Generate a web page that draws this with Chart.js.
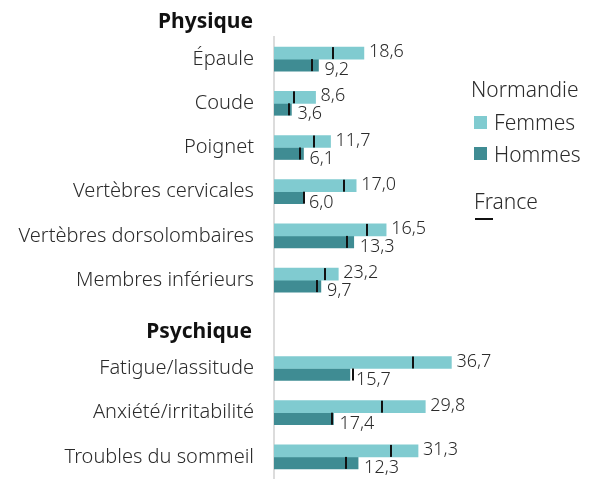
<!DOCTYPE html>
<html>
<head>
<meta charset="utf-8">
<script src="https://cdn.jsdelivr.net/npm/chart.js@4"></script>
<style>
  body { margin: 0; background: #fff; }
</style>
</head>
<body>
<canvas id="troubles" width="592" height="479"></canvas>
<script>
// Troubles musculo-squelettiques / psychiques, Normandie vs France

var categories = ['Épaule', 'Coude', 'Poignet', 'Vertèbres cervicales', 'Vertèbres dorsolombaires',
                  'Membres inférieurs', 'Psychique', 'Fatigue/lassitude', 'Anxiété/irritabilité', 'Troubles du sommeil'];

// Normandie (bar lengths)
var femmes = [18.6, 8.6, 11.7, 17.0, 23.2, 13.3, null, 36.7, 31.3, 29.8];
var hommes = [9.2, 3.6, 6.1, 6.0, 16.5, 9.7, null, 15.7, 12.3, 17.4];

// value labels as printed on the chart
var femmesLabels = ['18,6', '8,6', '11,7', '17,0', '16,5', '23,2', '', '36,7', '29,8', '31,3'];
var hommesLabels = ['9,2', '3,6', '6,1', '6,0', '13,3', '9,7', '', '15,7', '17,4', '12,3'];

// France reference marks
var franceF = [12.2, 4.1, 8.3, 14.4, 19.2, 10.5, null, 28.8, 22.3, 24.2];
var franceH = [7.9, 3.1, 5.3, 6.2, 15.1, 8.9, null, 16.3, 12.1, 14.8];

var headers = ['Physique', 'Psychique'];
var HEADER_IDX = 6;   // empty row holding "Psychique"

var FONT = "'Noto Sans', sans-serif";
var TXT = '#2b2b2b';
var C_F = '#80cbd0';
var C_H = '#3f8c93';


// draws France ticks, value labels, headers and legend
var extras = {
    id: 'extras',
    afterDatasetsDraw: function(chart) {
        var ctx = chart.ctx;
        var x = chart.scales.x;
        var yS = chart.scales.y;
        var area = chart.chartArea;
        var metaF = chart.getDatasetMeta(0);
        var metaH = chart.getDatasetMeta(1);

        ctx.save();

        // France marks
        ctx.fillStyle = '#111';
        for (var i = 0; i < categories.length; i++) {
            [[metaF, franceF], [metaH, franceH]].forEach(function(p) {
                var v = p[1][i];
                if (v === null) return;
                var bar = p[0].data[i];
                var px = x.getPixelForValue(v);
                ctx.fillRect(Math.round(px) - 1, bar.y - bar.height / 2, 2, bar.height);
            });
        }

        // value labels
        ctx.font = '300 18px ' + FONT;
        ctx.fillStyle = TXT;
        ctx.textAlign = 'left';
        ctx.textBaseline = 'middle';
        for (var j = 0; j < categories.length; j++) {
            if (femmes[j] === null) continue;
            var bf = metaF.data[j], bh = metaH.data[j];
            ctx.fillText(femmesLabels[j], bf.x + 5, bf.y - 1);
            ctx.fillText(hommesLabels[j], bh.x + 6, bh.y + 5);
        }

        // section headers
        ctx.font = 'bold 21px ' + FONT;
        ctx.fillStyle = '#111';
        ctx.textAlign = 'right';
        ctx.fillText(headers[0], yS.right - 21, area.top - 15);
        ctx.fillText(headers[1], yS.right - 22, yS.getPixelForValue(HEADER_IDX) + 8);

        // legend
        ctx.font = '300 21px ' + FONT;
        ctx.fillStyle = TXT;
        ctx.textAlign = 'left';
        ctx.textBaseline = 'alphabetic';
        ctx.fillText('Normandie', 471, 97);
        ctx.fillStyle = C_F;
        ctx.fillRect(474, 116, 13, 13);
        ctx.fillStyle = C_H;
        ctx.fillRect(474, 147, 13, 13);
        ctx.fillStyle = TXT;
        ctx.fillText('Femmes', 494, 130);
        ctx.fillText('Hommes', 494, 162);
        ctx.fillText('France', 474, 209);
        ctx.fillStyle = '#111';
        ctx.fillRect(475, 218, 18, 2);

        ctx.restore();
    }
};


var ctx_t = document.getElementById('troubles').getContext('2d');

var chart = new Chart(ctx_t, {
    type: 'bar',
    data: {
        labels: categories,
        datasets: [
            {label: 'Femmes', data: femmes, backgroundColor: C_F},
            {label: 'Hommes', data: hommes, backgroundColor: C_H},
        ],
    },
    options: {
        responsive: false,
        animation: false,
        indexAxis: 'y',
        layout: {padding: {top: 37, right: 28, bottom: 0, left: 0}},
        datasets: {bar: {barThickness: 12, categoryPercentage: 0.59, barPercentage: 1}},
        scales: {
            x: {display: false, min: 0, max: 60},
            y: {
                afterFit: function(scale) {
                    scale.width = 274;
                    scale.paddingTop = 0;
                    scale.paddingBottom = 0;
                },
                grid: {display: false, drawTicks: false},
                border: {display: true, color: '#dcdcdc', width: 2},
                ticks: {
                    padding: 20,
                    color: TXT,
                    font: {family: FONT, size: 20, weight: 300},
                    callback: function(v, i) { return i === HEADER_IDX ? '' : categories[i]; },
                },
            },
        },
        plugins: {
            legend: {display: false},
            tooltip: {enabled: false},
        },
    },
    plugins: [extras],
});
</script>
</body>
</html>
